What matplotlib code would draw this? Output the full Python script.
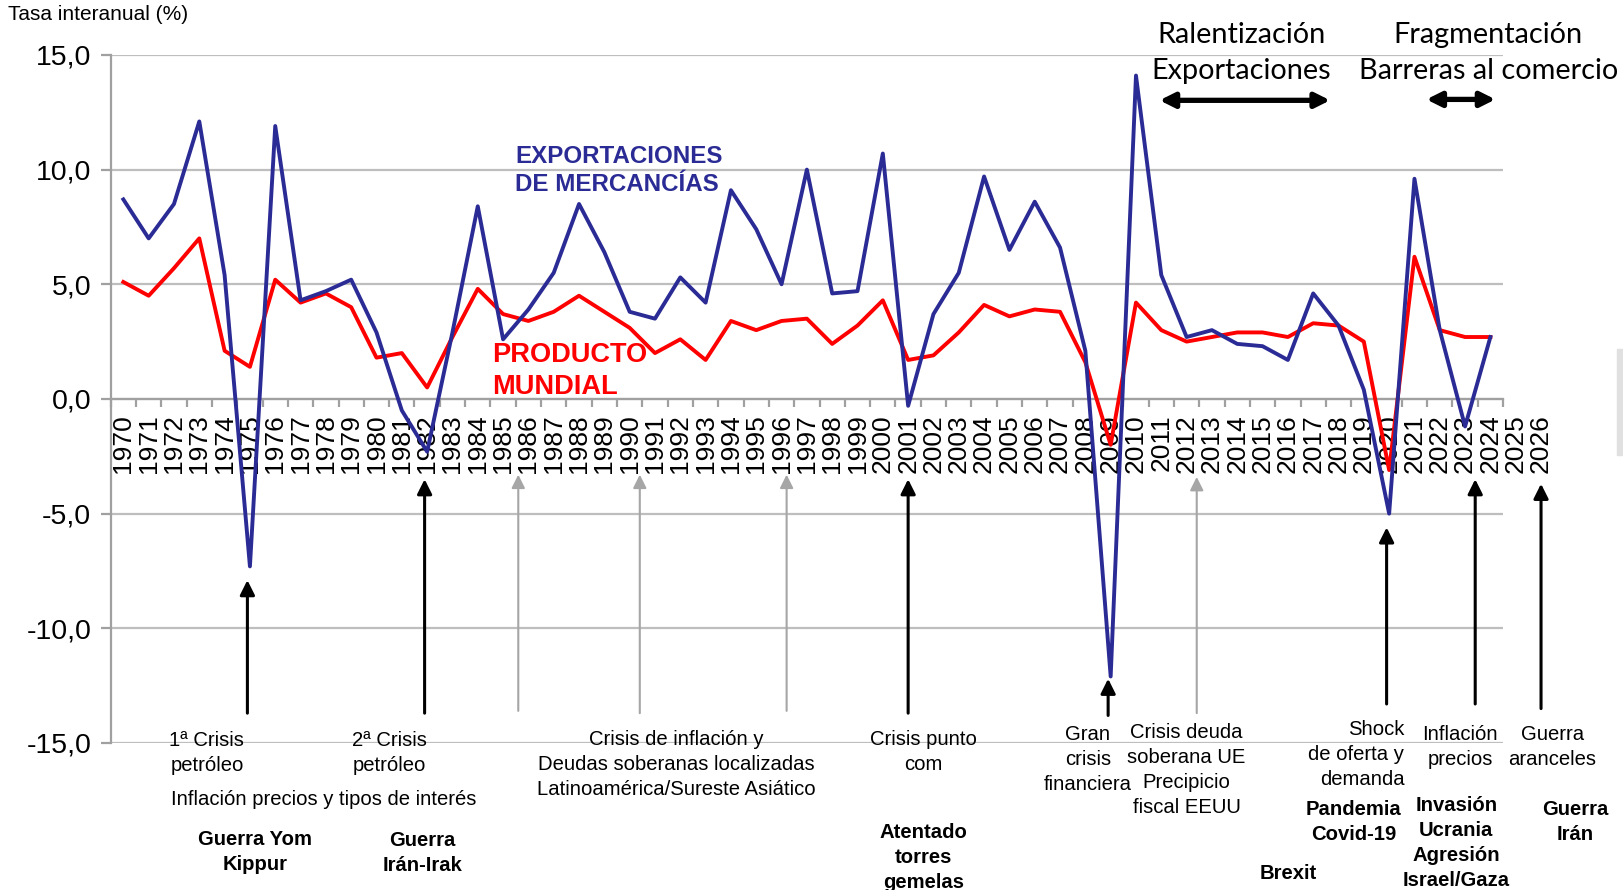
import matplotlib
matplotlib.use("Agg")
import matplotlib.pyplot as plt
from matplotlib.patches import Rectangle

plt.rcParams['font.family'] = ['Liberation Sans', 'DejaVu Sans']

# DATA
years = list(range(1970, 2025))
tick_years = list(range(1970, 2027))

exportaciones = [8.7, 7.0, 8.5, 12.1, 5.4, -7.3, 11.9, 4.3, 4.7, 5.2,
                 2.9, -0.5, -2.3, 2.9, 8.4, 2.6, 3.9, 5.5, 8.5, 6.4,
                 3.8, 3.5, 5.3, 4.2, 9.1, 7.4, 5.0, 10.0, 4.6, 4.7,
                 10.7, -0.3, 3.7, 5.5, 9.7, 6.5, 8.6, 6.6, 2.1, -12.1,
                 14.1, 5.4, 2.7, 3.0, 2.4, 2.3, 1.7, 4.6, 3.2, 0.4,
                 -5.0, 9.6, 3.0, -1.2, 2.7]

producto = [5.1, 4.5, 5.7, 7.0, 2.1, 1.4, 5.2, 4.2, 4.6, 4.0,
            1.8, 2.0, 0.5, 2.7, 4.8, 3.7, 3.4, 3.8, 4.5, 3.8,
            3.1, 2.0, 2.6, 1.7, 3.4, 3.0, 3.4, 3.5, 2.4, 3.2,
            4.3, 1.7, 1.9, 2.9, 4.1, 3.6, 3.9, 3.8, 1.6, -2.0,
            4.2, 3.0, 2.5, 2.7, 2.9, 2.9, 2.7, 3.3, 3.2, 2.5,
            -3.1, 6.2, 3.0, 2.7, 2.7]

yticks = [15, 10, 5, 0, -5, -10, -15]

# event arrows: (x position, tail y, head y)
black_arrows = [(1974.9, -13.7, -7.9), (1981.9, -13.7, -3.5), (2001.0, -13.7, -3.5),
                (2008.9, -13.8, -12.2), (2019.9, -13.3, -5.6), (2023.4, -13.3, -3.5),
                (2026.0, -13.5, -3.7)]
grey_arrows = [(1985.6, -13.6, -3.3), (1990.4, -13.7, -3.3), (1996.2, -13.6, -3.3),
               (2012.4, -13.7, -3.4)]

# text annotations: (x, y, text, bold, align)
notas = [
    (1973.3, -15.45, "1ª Crisis\npetróleo", False, 'center'),
    (1977.9, -17.48, "Inflación precios y tipos de interés", False, 'center'),
    (1975.2, -19.75, "Guerra Yom\nKippur", True, 'center'),
    (1980.5, -15.45, "2ª Crisis\npetróleo", False, 'center'),
    (1981.8, -19.8, "Guerra\nIrán-Irak", True, 'center'),
    (1991.85, -15.92, "Crisis de inflación y\nDeudas soberanas localizadas\nLatinoamérica/Sureste Asiático", False, 'center'),
    (2001.6, -15.38, "Crisis punto\ncom", False, 'center'),
    (2001.6, -19.98, "Atentado\ntorres\ngemelas", True, 'center'),
    (2008.1, -15.7, "Gran\ncrisis\nfinanciera", False, 'center'),
    (2012.0, -16.19, "Crisis deuda\nsoberana UE\nPrecipicio\nfiscal EEUU", False, 'center'),
    (2020.6, -15.52, "Shock\nde oferta y\ndemanda", False, 'right'),
    (2018.6, -18.45, "Pandemia\nCovid-19", True, 'center'),
    (2016.0, -20.68, "Brexit", True, 'center'),
    (2022.8, -15.18, "Inflación\nprecios", False, 'center'),
    (2022.65, -19.38, "Invasión\nUcrania\nAgresión\nIsrael/Gaza", True, 'center'),
    (2026.45, -15.16, "Guerra\naranceles", False, 'center'),
    (2027.35, -18.45, "Guerra\nIrán", True, 'center'),
]

AZUL = '#2B2B96'
ROJO = '#FF0000'
GRIS = '#BEBEBE'

fig = plt.figure(figsize=(16.23, 8.9), dpi=100)
ax = fig.add_axes([0.0682, 0.1652, 0.8579, 0.7731])

ax.set_xlim(1969.5, 2024.5)
ax.set_ylim(-15, 15)

# grid and axes
ax.set_yticks(yticks)
ax.set_yticklabels([f"{v:.1f}".replace('.', ',') for v in yticks], fontsize=20.5)
ax.grid(axis='y', color=GRIS, linewidth=1.6, zorder=0)
ax.set_axisbelow(True)
for s in ['top', 'right']:
    ax.spines[s].set_visible(False)
ax.spines['left'].set_color('#A0A0A0')
ax.spines['left'].set_linewidth(1.6)
ax.spines['bottom'].set_position(('data', 0))
ax.spines['bottom'].set_color('#A0A0A0')
ax.spines['bottom'].set_linewidth(1.6)
ax.tick_params(axis='y', length=7, width=1.6, color='#A0A0A0', pad=7)
ax.set_xticks([y - 0.5 for y in tick_years[:56]])
ax.set_xticklabels([])
ax.tick_params(axis='x', length=6, width=1.6, color='#A0A0A0', direction='out')

# year labels as text so 2025/2026 show outside the axis
for yr in tick_years:
    ax.annotate(str(yr), (yr, 0), xytext=(0, -11), textcoords='offset points',
                rotation=90, ha='center', va='top', fontsize=19,
                annotation_clip=False, zorder=1)

ax.plot(years, producto, color=ROJO, linewidth=2.8, zorder=4, clip_on=False)
ax.plot(years, exportaciones, color=AZUL, linewidth=2.8, zorder=5, clip_on=False)

ax.text(1985.48, 9.95, "EXPORTACIONES\nDE MERCANCÍAS", color=AZUL, fontsize=17.4,
        fontweight='bold', ha='left', va='center', linespacing=1.3)
ax.text(1984.58, 1.22, "PRODUCTO\nMUNDIAL", color=ROJO, fontsize=19.6,
        fontweight='bold', ha='left', va='center', linespacing=1.28)

# periods at top
ax.text(2014.16, 15.09, "Ralentización\nExportaciones", fontsize=20.8, family='Lato',
        ha='center', va='center', linespacing=1.5, clip_on=False)
ax.text(2023.92, 15.09, "Fragmentación\nBarreras al comercio", fontsize=20.8, family='Lato',
        ha='center', va='center', linespacing=1.5, clip_on=False)
for x0, x1, yy in [(2010.93, 2017.67, 13.02), (2021.47, 2024.2, 13.06)]:
    ax.annotate('', xy=(x1, yy), xytext=(x0, yy),
                arrowprops=dict(arrowstyle='<|-|>', color='black', lw=3.8,
                                mutation_scale=22, shrinkA=0, shrinkB=0),
                annotation_clip=False)

# event arrows
for x, y0, y1 in black_arrows:
    ax.annotate('', xy=(x, y1), xytext=(x, y0),
                arrowprops=dict(arrowstyle='-|>', color='black', lw=2.2,
                                mutation_scale=22, shrinkA=0, shrinkB=0),
                annotation_clip=False)
for x, y0, y1 in grey_arrows:
    ax.annotate('', xy=(x, y1), xytext=(x, y0),
                arrowprops=dict(arrowstyle='-|>', color='#A6A6A6', lw=1.5,
                                mutation_scale=20, shrinkA=0, shrinkB=0),
                annotation_clip=False)

for x, y, txt, bold, al in notas:
    ax.text(x, y, txt, fontsize=14.6, fontweight='bold' if bold else 'normal',
            ha=al, va='center', multialignment=al, linespacing=1.4, clip_on=False)

fig.text(8.3 / 1623, 1 - 14.5 / 890, "Tasa interanual (%)", fontsize=15,
         ha='left', va='center')
fig.patches.append(Rectangle((1617 / 1623, 1 - 455 / 890), 6 / 1623, 106 / 890,
                             transform=fig.transFigure, color='#E0E0E0'))

fig.savefig('out.png', dpi=100)
